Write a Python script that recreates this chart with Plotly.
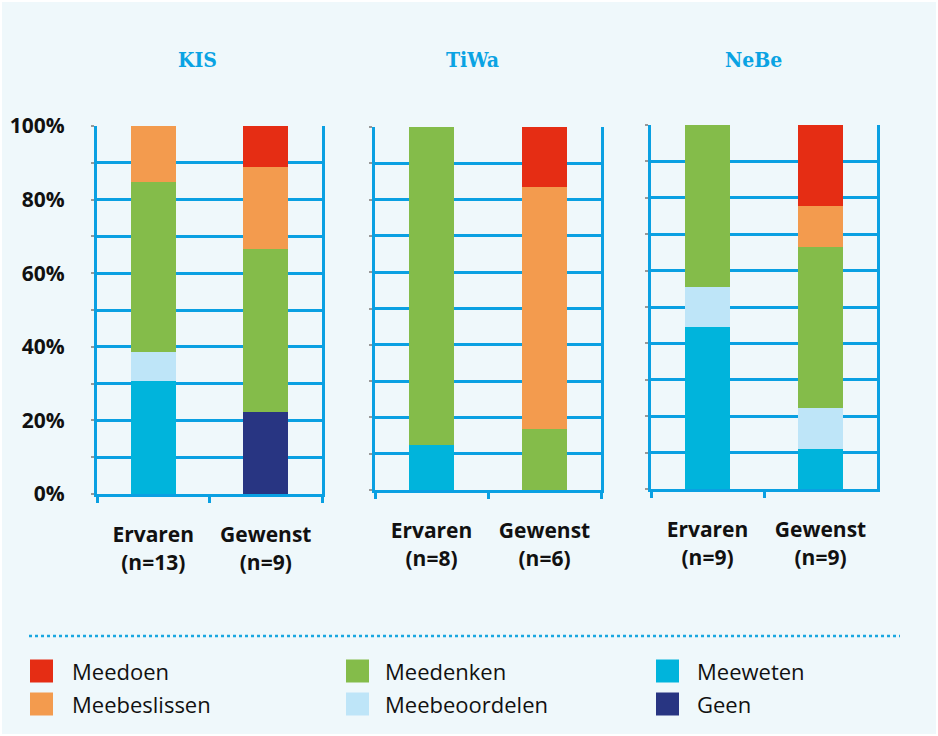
import plotly.graph_objects as go

W, H = 938, 736

panels = ["KIS", "TiWa", "NeBe"]
x_labels = [
    ["Ervaren<br>(n=13)", "Gewenst<br>(n=9)"],
    ["Ervaren<br>(n=8)", "Gewenst<br>(n=6)"],
    ["Ervaren<br>(n=9)", "Gewenst<br>(n=9)"],
]

# values (%) per bar: KIS-Ervaren, KIS-Gewenst, TiWa-Ervaren, TiWa-Gewenst, NeBe-Ervaren, NeBe-Gewenst
geen          = [0.0, 22.2, 0.0, 0.0, 0.0, 0.0]
meeweten      = [30.8, 0.0, 12.5, 0.0, 44.4, 11.1]
meebeoordelen = [7.7, 0.0, 0.0, 0.0, 11.1, 11.1]
meedenken     = [46.2, 44.4, 87.5, 16.7, 44.5, 44.4]
meebeslissen  = [15.3, 22.2, 0.0, 66.7, 0.0, 11.1]
meedoen       = [0.0, 11.2, 0.0, 16.6, 0.0, 22.3]

series_names = ["Geen", "Meeweten", "Meebeoordelen", "Meedenken", "Meebeslissen", "Meedoen"]
series_values = [geen, meeweten, meebeoordelen, meedenken, meebeslissen, meedoen]
series_colors = ["#283582", "#00b4dc", "#bee5f8", "#84bc4a", "#f39b4e", "#e52d14"]

y_tickvals = [0, 10, 20, 30, 40, 50, 60, 70, 80, 90, 100]
y_ticktext = ["0%", "", "20%", "", "40%", "", "60%", "", "80%", "", "100%"]

legend_grid = [["Meedoen", "Meedenken", "Meeweten"],
               ["Meebeslissen", "Meebeoordelen", "Geen"]]

BG = "#eff8fb"
GRID = "#0aa0e2"
TITLE_C = "#0aa3e3"

def px(x):
    return x / W

def py(y):
    return 1 - y / H

x_dom = [(97, 322), (375, 601), (651, 877)]
y_dom = [(494, 126), (490, 127), (489, 125)]
title_x = [197, 472, 753]

fig = go.Figure()

for p in range(3):
    xa = "x" if p == 0 else f"x{p+1}"
    ya = "y" if p == 0 else f"y{p+1}"
    for name, vals, col in zip(series_names, series_values, series_colors):
        fig.add_trace(go.Bar(
            x=x_labels[p], y=vals[2 * p:2 * p + 2], name=name,
            marker=dict(color=col, line=dict(width=0)),
            width=0.4, xaxis=xa, yaxis=ya, showlegend=False,
            hoverinfo="skip"))

layout = dict(
    width=W, height=H, autosize=False,
    margin=dict(l=0, r=0, t=0, b=0, pad=0, autoexpand=False),
    paper_bgcolor=BG, plot_bgcolor=BG,
    barmode="stack", bargap=0.6,
    showlegend=False,
    font=dict(family="Open Sans", color="#111111"),
)

for p in range(3):
    xk = "xaxis" if p == 0 else f"xaxis{p+1}"
    yk = "yaxis" if p == 0 else f"yaxis{p+1}"
    ya = "y" if p == 0 else f"y{p+1}"
    xa = "x" if p == 0 else f"x{p+1}"
    layout[xk] = dict(
        domain=[px(x_dom[p][0]), px(x_dom[p][1])], anchor=ya,
        automargin=False,
        showline=True, linecolor=GRID, linewidth=3, mirror=False,
        ticks="outside", tickson="boundaries", ticklen=6, tickwidth=3, tickcolor=GRID,
        showgrid=False, fixedrange=True,
        tickfont=dict(family="Open Sans", size=21, color="#111111", weight="bold"),
        ticklabelstandoff=20,
    )
    layout[yk] = dict(
        domain=[py(y_dom[p][0]), py(y_dom[p][1])], anchor=xa,
        automargin=False,
        range=[0, 100], tickvals=y_tickvals, ticktext=y_ticktext,
        showgrid=True, gridcolor=GRID, gridwidth=2.5,
        showline=True, linecolor=GRID, linewidth=3, mirror=True,
        zeroline=False,
        ticks="outside", ticklen=3, tickwidth=2, tickcolor="#999999",
        showticklabels=(p == 0), ticklabelstandoff=22,
        tickfont=dict(family="Open Sans", size=21, color="#111111", weight="bold"),
        fixedrange=True,
    )

annotations = []
for p in range(3):
    annotations.append(dict(
        text=panels[p], x=px(title_x[p]), y=py(59), xref="paper", yref="paper",
        xanchor="center", yanchor="middle", showarrow=False,
        font=dict(family="DejaVu Serif Condensed, DejaVu Serif", size=21,
                  color=TITLE_C, weight="bold")))

shapes = []
shapes.append(dict(type="line", xref="paper", yref="paper",
                   x0=px(29), x1=px(900), y0=py(636), y1=py(636),
                   line=dict(color="#1aa7e0", width=2.5, dash="dot")))

color_of = dict(zip(series_names, series_colors))
sq_x = [30, 346, 656]
tx_x = [70, 383, 695]
row_y = [671, 704]
for r, row in enumerate(legend_grid):
    for c, name in enumerate(row):
        shapes.append(dict(type="rect", xref="paper", yref="paper",
                           x0=px(sq_x[c]), x1=px(sq_x[c] + 23),
                           y0=py(row_y[r] + 11.5), y1=py(row_y[r] - 11.5),
                           fillcolor=color_of[name], line=dict(width=0)))
        annotations.append(dict(
            text=name, x=px(tx_x[c]), y=py(row_y[r]), xref="paper", yref="paper",
            xanchor="left", yanchor="middle", showarrow=False,
            font=dict(family="Open Sans", size=22, color="#111111")))

shapes.append(dict(type="rect", xref="paper", yref="paper", x0=0, x1=1, y0=0, y1=1,
                   line=dict(color="white", width=4), fillcolor="rgba(0,0,0,0)"))

layout["annotations"] = annotations
layout["shapes"] = shapes
fig.update_layout(**layout)

fig.write_html("out.html", config={"displayModeBar": False},
               post_script="document.body.style.margin='0';document.body.style.overflow='hidden';")
